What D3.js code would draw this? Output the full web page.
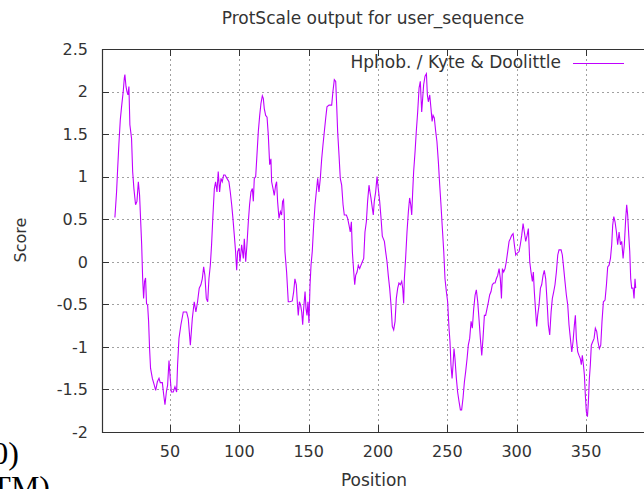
<!DOCTYPE html>
<html>
<head>
<meta charset="utf-8">
<script src="https://cdn.jsdelivr.net/npm/d3@7"></script>
<style>
body { margin: 0; background: #fff; }
svg { display: block; }
text { font-family: "DejaVu Sans", sans-serif; fill: #333; }
</style>
</head>
<body>
<script>
// values (position, score)
var positions = [
10.3,11.5,12.3,13.2,14.2,15.1,16.3,17.1,17.5,18.3,19.0,19.7,20.4,21.1,22.3,23.1,24.0,25.2,26.2,27.2,
28.1,28.8,29.6,30.3,31.0,31.7,32.4,33.1,33.9,34.6,35.3,36.0,37.3,38.7,39.7,40.9,42.1,43.0,44.5,45.4,
46.4,47.4,48.3,49.3,50.2,51.0,52.4,53.6,54.8,55.5,56.5,57.9,59.6,62.0,63.2,64.7,66.1,67.5,68.7,69.9,
71.1,72.3,73.3,74.3,75.2,76.2,77.2,78.1,79.1,80.0,81.0,82.0,82.9,83.9,84.8,85.8,86.8,87.7,88.7,89.7,
91.1,92.5,93.5,94.5,95.4,96.4,97.3,98.1,98.8,99.8,100.5,101.7,102.9,103.6,104.6,105.5,106.5,107.4,108.4,109.4,
110.1,110.8,111.8,112.7,113.7,114.7,115.6,116.6,117.3,118.0,119.0,120.0,120.9,121.9,122.8,123.3,124.3,125.2,126.2,126.9,
127.6,128.6,129.6,130.5,131.2,131.9,132.4,132.9,134.1,135.3,136.5,138.2,139.2,140.1,141.1,141.8,142.5,143.3,144.2,145.0,
145.7,146.4,147.4,148.1,148.8,149.5,150.2,151.0,151.7,152.6,153.6,154.6,155.5,156.5,157.4,158.4,159.4,160.3,161.3,162.3,
163.2,164.7,166.6,167.5,168.5,169.5,170.2,170.9,171.9,172.8,173.8,174.8,175.7,177.2,178.1,179.1,180.0,180.8,181.5,182.5,
183.2,183.9,184.9,185.8,186.8,187.7,188.7,189.7,190.6,191.6,192.5,193.5,194.2,194.9,195.9,196.6,197.3,198.3,199.3,200.2,
201.2,202.2,203.1,204.6,205.5,206.5,207.4,208.4,209.4,210.3,211.3,212.3,213.2,214.2,215.1,216.1,217.1,217.8,218.5,219.0,
219.9,220.9,221.9,222.8,223.6,224.3,225.0,225.7,226.7,227.6,228.6,229.6,230.5,231.5,232.2,232.9,233.9,234.9,235.6,236.3,
237.3,238.2,239.0,239.7,240.6,241.6,242.5,243.5,244.5,245.4,246.4,247.4,248.3,249.3,250.2,251.2,251.9,252.6,253.4,254.1,
254.8,255.5,256.5,257.4,258.4,259.4,260.3,261.3,262.3,263.2,264.2,265.1,266.1,267.1,268.0,269.0,270.0,270.9,271.9,272.8,
273.8,274.8,275.7,276.7,277.6,278.6,279.6,280.5,281.5,282.4,283.4,284.4,285.3,286.3,287.3,288.2,289.0,289.7,290.6,291.6,
292.5,293.5,294.5,295.4,296.4,297.4,298.3,299.3,300.2,301.7,302.6,303.6,304.6,305.5,306.5,307.5,308.4,309.4,310.3,311.3,
312.0,312.7,313.5,314.4,315.1,316.1,317.1,318.0,319.0,319.9,320.9,321.9,322.8,323.8,324.8,325.7,326.7,327.6,328.6,329.6,
330.5,332.0,332.9,333.9,334.8,335.8,336.8,337.7,338.7,339.7,340.6,341.6,342.3,343.0,344.0,344.9,345.9,346.6,347.3,348.1,
348.8,349.5,350.2,351.0,351.7,352.4,353.1,353.8,354.8,355.8,356.7,357.7,358.6,359.6,360.6,361.5,362.5,363.7,364.7,365.6,
366.6,367.6,368.5,369.2,370.0,370.9,371.9,372.8,373.8,374.8,375.7,376.7,377.6,378.6,379.3,380.0,380.8,381.5,382.2,382.9,
383.9,384.6,385.3,385.8
];
var scores = [
0.52,0.82,1.10,1.39,1.67,1.82,2.00,2.16,2.20,2.06,2.00,1.96,2.06,1.61,1.45,1.06,0.86,0.67,0.71,0.94,
0.78,0.51,0.20,-0.19,-0.43,-0.23,-0.19,-0.49,-0.51,-0.70,-1.02,-1.25,-1.37,-1.45,-1.51,-1.41,-1.37,-1.42,-1.42,-1.55,
-1.68,-1.53,-1.45,-1.16,-1.37,-1.53,-1.53,-1.47,-1.53,-1.21,-0.90,-0.74,-0.59,-0.59,-0.67,-0.98,-0.67,-0.47,-0.59,-0.47,
-0.31,-0.27,-0.20,-0.06,-0.16,-0.43,-0.47,-0.20,-0.04,0.20,0.55,0.86,0.94,0.82,1.06,0.82,0.98,0.94,1.02,1.02,
0.98,0.94,0.82,0.67,0.51,0.31,0.12,-0.10,0.12,0.16,0.00,0.20,0.04,0.27,0.00,0.20,0.47,0.67,0.82,0.86,
0.71,0.98,1.00,1.25,1.53,1.72,1.86,1.95,1.92,1.80,1.72,1.70,1.49,1.14,1.21,0.94,0.86,0.78,0.90,0.94,
0.71,0.51,0.59,0.55,0.71,0.73,0.55,0.12,-0.12,-0.47,-0.47,-0.46,-0.35,-0.20,-0.27,-0.47,-0.63,-0.47,-0.51,-0.59,
-0.74,-0.55,-0.35,-0.55,-0.63,-0.47,-0.72,-0.27,-0.04,0.12,0.43,0.67,0.82,0.98,0.82,0.98,1.21,1.37,1.53,1.69,
1.82,1.84,1.84,2.00,2.14,2.12,1.84,1.53,1.25,0.98,0.90,0.67,0.55,0.55,0.51,0.43,0.35,0.47,0.12,-0.12,
-0.27,-0.16,-0.12,-0.04,-0.08,-0.04,0.00,0.04,0.35,0.47,0.71,0.90,0.82,0.75,0.63,0.55,0.71,0.82,1.00,0.86,
0.71,0.51,0.30,0.24,0.12,0.00,-0.16,-0.31,-0.51,-0.76,-0.80,-0.70,-0.43,-0.31,-0.25,-0.27,-0.23,-0.31,-0.49,-0.20,
0.04,0.35,0.59,0.75,0.67,0.55,0.82,1.06,1.29,1.53,1.76,2.04,2.12,1.76,1.92,2.08,2.18,2.21,1.96,1.88,
1.96,1.80,1.65,1.72,1.69,1.53,1.41,1.18,0.90,0.67,0.39,0.12,-0.20,-0.35,-0.47,-0.78,-0.94,-1.21,-1.37,-1.21,
-1.02,-1.14,-1.37,-1.53,-1.64,-1.74,-1.74,-1.60,-1.41,-1.29,-1.14,-0.98,-0.90,-0.70,-0.78,-0.55,-0.39,-0.33,-0.47,-0.67,
-0.90,-1.10,-0.90,-0.63,-0.63,-0.55,-0.47,-0.39,-0.35,-0.27,-0.25,-0.25,-0.20,-0.16,-0.08,-0.20,-0.43,-0.08,-0.12,-0.08,
0.00,0.12,0.24,0.27,0.31,0.33,0.20,0.08,0.10,0.12,0.20,0.31,0.45,0.35,0.24,0.31,0.39,0.00,-0.12,-0.23,
-0.12,-0.35,-0.55,-0.76,-0.63,-0.51,-0.31,-0.27,-0.16,-0.10,-0.20,-0.47,-0.74,-0.86,-0.59,-0.43,-0.35,-0.27,-0.12,0.08,
0.14,0.14,0.08,-0.08,-0.23,-0.39,-0.51,-0.74,-0.90,-1.06,-0.94,-0.74,-0.63,-0.90,-1.06,-1.10,-1.14,-1.21,-1.10,-1.21,
-1.33,-1.57,-1.76,-1.82,-1.64,-1.37,-1.21,-0.98,-0.94,-0.90,-0.78,-0.82,-0.94,-1.02,-0.98,-0.70,-0.47,-0.45,-0.27,-0.06,
-0.04,0.04,0.20,0.43,0.53,0.47,0.35,0.20,0.35,0.20,0.24,0.04,0.20,0.51,0.67,0.55,0.31,0.12,-0.20,-0.31,
-0.31,-0.43,-0.20,-0.31
];
var yTicks = [-2, -1.5, -1, -0.5, 0, 0.5, 1, 1.5, 2, 2.5];
var xTicks = [50, 100, 150, 200, 250, 300, 350];
var title = "ProtScale output for user_sequence";
var seriesName = "Hphob. / Kyte & Doolittle";

var width = 644, height = 489;
// plot box (named so it does not clash with window.top)
var plotL = 102, plotR = 645, plotT = 49, plotB = 432;

var svg = d3.select("body").append("svg")
    .attr("width", width)
    .attr("height", height);

var x = d3.scaleLinear().domain([1, 392.5]).range([plotL, plotR]);
var y = d3.scaleLinear().domain([-2, 2.5]).range([plotB, plotT]);

function snap(v) { return Math.round(v) + 0.5; }

// grid
svg.append("g").selectAll("line")
    .data(yTicks.filter(function(d) { return d > -2 && d < 2.5; }))
    .enter().append("line")
    .attr("x1", plotL).attr("x2", plotR)
    .attr("y1", function(d) { return snap(y(d)); })
    .attr("y2", function(d) { return snap(y(d)); })
    .attr("stroke", "#a0a0a0")
    .attr("stroke-dasharray", "2,3");

svg.append("g").selectAll("line")
    .data(xTicks)
    .enter().append("line")
    .attr("y1", plotT).attr("y2", plotB)
    .attr("x1", function(d) { return snap(x(d)); })
    .attr("x2", function(d) { return snap(x(d)); })
    .attr("stroke", "#a0a0a0")
    .attr("stroke-dasharray", "2,3");

// data line
svg.append("clipPath").attr("id", "clip")
    .append("rect").attr("x", plotL).attr("y", plotT)
    .attr("width", plotR - plotL).attr("height", plotB - plotT);

var line = d3.line()
    .x(function(d, i) { return x(positions[i]); })
    .y(function(d) { return y(d); });

svg.append("path")
    .datum(scores)
    .attr("clip-path", "url(#clip)")
    .attr("fill", "none")
    .attr("stroke", "#c000ff")
    .attr("stroke-width", 1.1)
    .attr("d", line);

// border + ticks
var axisColor = "#333";
svg.append("path")
    .attr("d", "M" + (plotR + 1) + "," + (plotT + 0.5) + "H" + (plotL + 0.5) + "V" + (plotB + 0.5) + "H" + (plotR + 1))
    .attr("fill", "none")
    .attr("stroke", axisColor)
    .attr("stroke-width", 1.2);

svg.append("g").selectAll("line")
    .data(yTicks)
    .enter().append("line")
    .attr("x1", plotL).attr("x2", plotL + 7)
    .attr("y1", function(d) { return snap(y(d)); })
    .attr("y2", function(d) { return snap(y(d)); })
    .attr("stroke", axisColor);

svg.append("g").selectAll("line")
    .data(xTicks)
    .enter().append("line")
    .attr("x1", function(d) { return snap(x(d)); })
    .attr("x2", function(d) { return snap(x(d)); })
    .attr("y1", plotB).attr("y2", plotB - 7)
    .attr("stroke", axisColor);

svg.append("g").selectAll("line")
    .data(xTicks)
    .enter().append("line")
    .attr("x1", function(d) { return snap(x(d)); })
    .attr("x2", function(d) { return snap(x(d)); })
    .attr("y1", plotT).attr("y2", plotT + 7)
    .attr("stroke", axisColor);

// tick labels
svg.append("g").selectAll("text")
    .data(yTicks)
    .enter().append("text")
    .attr("x", 88)
    .attr("y", function(d) { return y(d); })
    .attr("dy", "0.36em")
    .attr("text-anchor", "end")
    .style("font-size", "16px")
    .text(function(d) { return String(d); });

svg.append("g").selectAll("text")
    .data(xTicks)
    .enter().append("text")
    .attr("x", function(d) { return x(d); })
    .attr("y", 457)
    .attr("text-anchor", "middle")
    .style("font-size", "16px")
    .text(function(d) { return d; });

// titles
svg.append("text")
    .attr("x", 373).attr("y", 24)
    .attr("text-anchor", "middle")
    .style("font-size", "17px")
    .text(title);

svg.append("text")
    .attr("x", 374).attr("y", 486)
    .attr("text-anchor", "middle")
    .style("font-size", "17px")
    .text("Position");

svg.append("text")
    .attr("transform", "translate(26,240) rotate(-90)")
    .attr("text-anchor", "middle")
    .style("font-size", "16px")
    .text("Score");

// key
svg.append("text")
    .attr("x", 561).attr("y", 68)
    .attr("text-anchor", "end")
    .style("font-size", "17px")
    .text(seriesName);

svg.append("line")
    .attr("x1", 573).attr("x2", 624)
    .attr("y1", 63.5).attr("y2", 63.5)
    .attr("stroke", "#c000ff")
    .attr("stroke-width", 1.1);

// page text that bleeds into the crop at bottom-left
svg.append("text")
    .attr("x", 19).attr("y", 464)
    .attr("text-anchor", "end")
    .style("font-family", "'Liberation Serif', serif")
    .style("font-size", "32px")
    .style("fill", "#000")
    .text("(0)");

svg.append("text")
    .attr("x", 50).attr("y", 498)
    .attr("text-anchor", "end")
    .style("font-family", "'Liberation Serif', serif")
    .style("font-size", "32px")
    .style("fill", "#000")
    .text("(TM)");
</script>
</body>
</html>
